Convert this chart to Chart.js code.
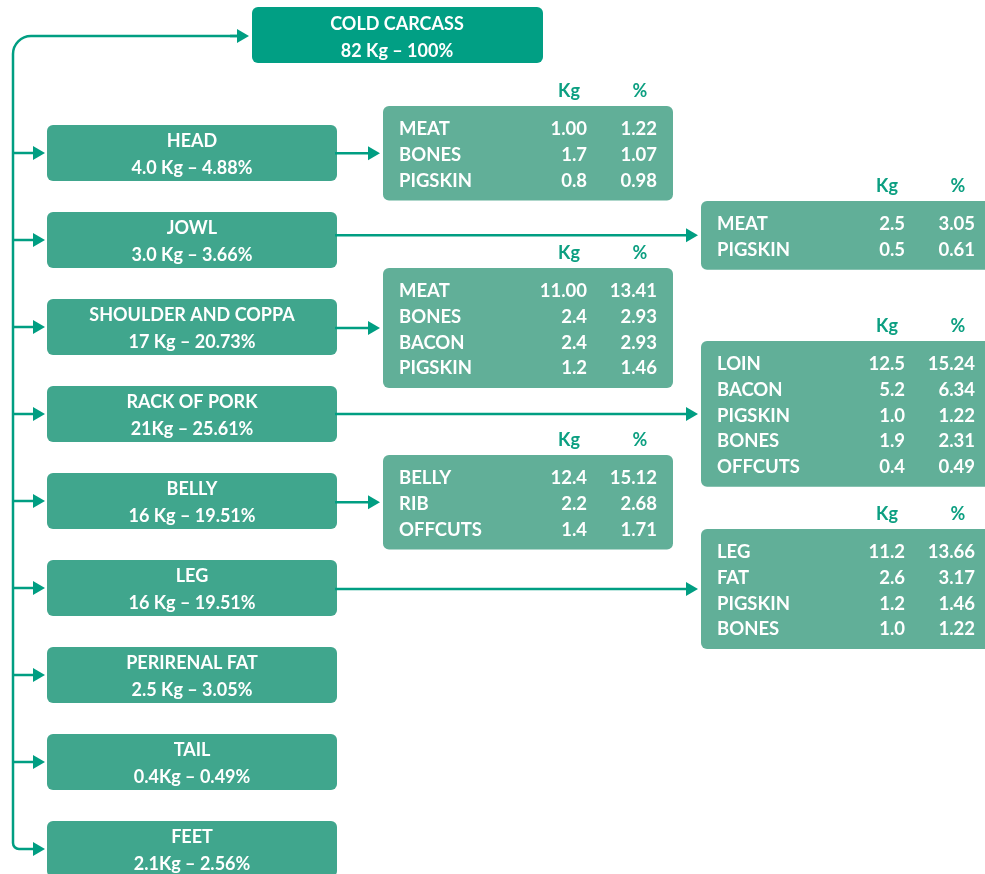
<!DOCTYPE html>
<html>
<head>
<meta charset="utf-8">
<script src="https://cdn.jsdelivr.net/npm/chart.js@4"></script>
<style>
  html, body { margin: 0; padding: 0; background: #fff; }
  #chart { display: block; }
</style>
</head>
<body>
<canvas id="chart" width="985" height="874"></canvas>
<script>
// Carcass breakdown
const totalName = 'COLD CARCASS';
const totalValue = '82 Kg – 100%';

const partNames = ['HEAD', 'JOWL', 'SHOULDER AND COPPA', 'RACK OF PORK', 'BELLY', 'LEG', 'PERIRENAL FAT', 'TAIL', 'FEET'];
const partValues = ['4.0 Kg – 4.88%', '3.0 Kg – 3.66%', '17 Kg – 20.73%', '21Kg – 25.61%', '16 Kg – 19.51%',
  '16 Kg – 19.51%', '2.5 Kg – 3.05%', '0.4Kg – 0.49%', '2.1Kg – 2.56%'];

const colHeaders = ['Kg', '%'];

const headCuts = ['MEAT', 'BONES', 'PIGSKIN'];
const headKg = ['1.00', '1.7', '0.8'];
const headPct = ['1.22', '1.07', '0.98'];

const jowlCuts = ['MEAT', 'PIGSKIN'];
const jowlKg = ['2.5', '0.5'];
const jowlPct = ['3.05', '0.61'];

const shoulderCuts = ['MEAT', 'BONES', 'BACON', 'PIGSKIN'];
const shoulderKg = ['11.00', '2.4', '2.4', '1.2'];
const shoulderPct = ['13.41', '2.93', '2.93', '1.46'];

const rackCuts = ['LOIN', 'BACON', 'PIGSKIN', 'BONES', 'OFFCUTS'];
const rackKg = ['12.5', '5.2', '1.0', '1.9', '0.4'];
const rackPct = ['15.24', '6.34', '1.22', '2.31', '0.49'];

const bellyCuts = ['BELLY', 'RIB', 'OFFCUTS'];
const bellyKg = ['12.4', '2.2', '1.4'];
const bellyPct = ['15.12', '2.68', '1.71'];

const legCuts = ['LEG', 'FAT', 'PIGSKIN', 'BONES'];
const legKg = ['11.2', '2.6', '1.2', '1.0'];
const legPct = ['13.66', '3.17', '1.46', '1.22'];

// layout (in scale units, which match pixels here)
const tables = [
  { cuts: headCuts, kg: headKg, pct: headPct, part: 0, x: 383, top: 106 },
  { cuts: jowlCuts, kg: jowlKg, pct: jowlPct, part: 1, x: 701, top: 201 },
  { cuts: shoulderCuts, kg: shoulderKg, pct: shoulderPct, part: 2, x: 383, top: 268 },
  { cuts: rackCuts, kg: rackKg, pct: rackPct, part: 3, x: 701, top: 341 },
  { cuts: bellyCuts, kg: bellyKg, pct: bellyPct, part: 4, x: 383, top: 455 },
  { cuts: legCuts, kg: legKg, pct: legPct, part: 5, x: 701, top: 529 }
];

const COLORS = {
  top: '#019f84',
  part: '#40a68d',
  table: '#61af98',
  line: '#009e82',
  header: '#0c9f81'
};
const FONT = 'Lato, "Open Sans", sans-serif';

const flowPlugin = {
  id: 'flow',
  afterDraw(chart) {
    const ctx = chart.ctx;
    const sx = chart.scales.x, sy = chart.scales.y;
    const px = v => sx.getPixelForValue(v);
    const py = v => sy.getPixelForValue(v);

    const box = (x0, y0, x1, y1, color) => {
      ctx.fillStyle = color;
      ctx.beginPath();
      ctx.roundRect(px(x0), py(y0), px(x1) - px(x0), py(y1) - py(y0), 6);
      ctx.fill();
    };
    const text = (str, x, yc, size, color, align) => {
      ctx.font = 'bold ' + size + 'px ' + FONT;
      ctx.fillStyle = color;
      ctx.textAlign = align;
      ctx.textBaseline = 'alphabetic';
      ctx.fillText(str, px(x), py(yc) + size * 0.36 + 1);
    };
    const arrow = (x0, x1, y) => {
      ctx.strokeStyle = COLORS.line;
      ctx.lineWidth = 2.5;
      ctx.beginPath();
      ctx.moveTo(px(x0), py(y));
      ctx.lineTo(px(x1) - 10, py(y));
      ctx.stroke();
      ctx.fillStyle = COLORS.line;
      ctx.beginPath();
      ctx.moveTo(px(x1), py(y));
      ctx.lineTo(px(x1) - 12, py(y) - 7);
      ctx.lineTo(px(x1) - 12, py(y) + 7);
      ctx.closePath();
      ctx.fill();
    };

    // trunk line with rounded corners
    const trunkX = 13;
    const lastCenter = 125 + 87 * (partNames.length - 1) + 28;
    ctx.strokeStyle = COLORS.line;
    ctx.lineWidth = 2.5;
    ctx.beginPath();
    ctx.moveTo(px(30), py(lastCenter));
    ctx.arcTo(px(trunkX), py(lastCenter), px(trunkX), py(lastCenter - 20), 6);
    ctx.arcTo(px(trunkX), py(36), px(trunkX + 20), py(36), 18);
    ctx.lineTo(px(240), py(36));
    ctx.stroke();
    arrow(230, 249, 36);

    // top box
    box(252, 7, 543, 63, COLORS.top);
    text(totalName, 397, 23, 18, '#fff', 'center');
    text(totalValue, 397, 50, 18, '#fff', 'center');

    // part boxes
    partNames.forEach((name, i) => {
      const top = 125 + 87 * i;
      if (i < partNames.length - 1) arrow(trunkX, 45, top + 28);
      else arrow(30, 45, top + 28);
      box(47, top, 337, top + 56, COLORS.part);
      text(name, 192, top + 15, 18, '#fff', 'center');
      text(partValues[i], 192, top + 42, 18, '#fff', 'center');
    });

    // detail tables
    tables.forEach(t => {
      const n = t.cuts.length;
      const bottom = t.top + 23 + (n - 1) * 25.7 + 20;
      const mid = (t.top + bottom) / 2;
      arrow(335, t.x - 3, mid);
      box(t.x, t.top, t.x + 290, bottom, COLORS.table);
      text(colHeaders[0], t.x + 186, t.top - 16, 18, COLORS.header, 'center');
      text(colHeaders[1], t.x + 257, t.top - 16, 18, COLORS.header, 'center');
      t.cuts.forEach((c, r) => {
        const yc = t.top + 21.5 + r * 25.7;
        text(c, t.x + 16, yc, 18.5, '#fff', 'left');
        text(t.kg[r], t.x + 204, yc, 18.5, '#fff', 'right');
        text(t.pct[r], t.x + 274, yc, 18.5, '#fff', 'right');
      });
    });
  }
};

new Chart(document.getElementById('chart'), {
  type: 'scatter',
  data: { datasets: [{ data: [], pointRadius: 0 }] },
  options: {
    responsive: false,
    animation: false,
    layout: { padding: 0 },
    scales: {
      x: { type: 'linear', min: 0, max: 985, display: false },
      y: { type: 'linear', min: 0, max: 874, reverse: true, display: false }
    },
    plugins: { legend: { display: false }, tooltip: { enabled: false } }
  },
  plugins: [flowPlugin]
});
</script>
</body>
</html>
